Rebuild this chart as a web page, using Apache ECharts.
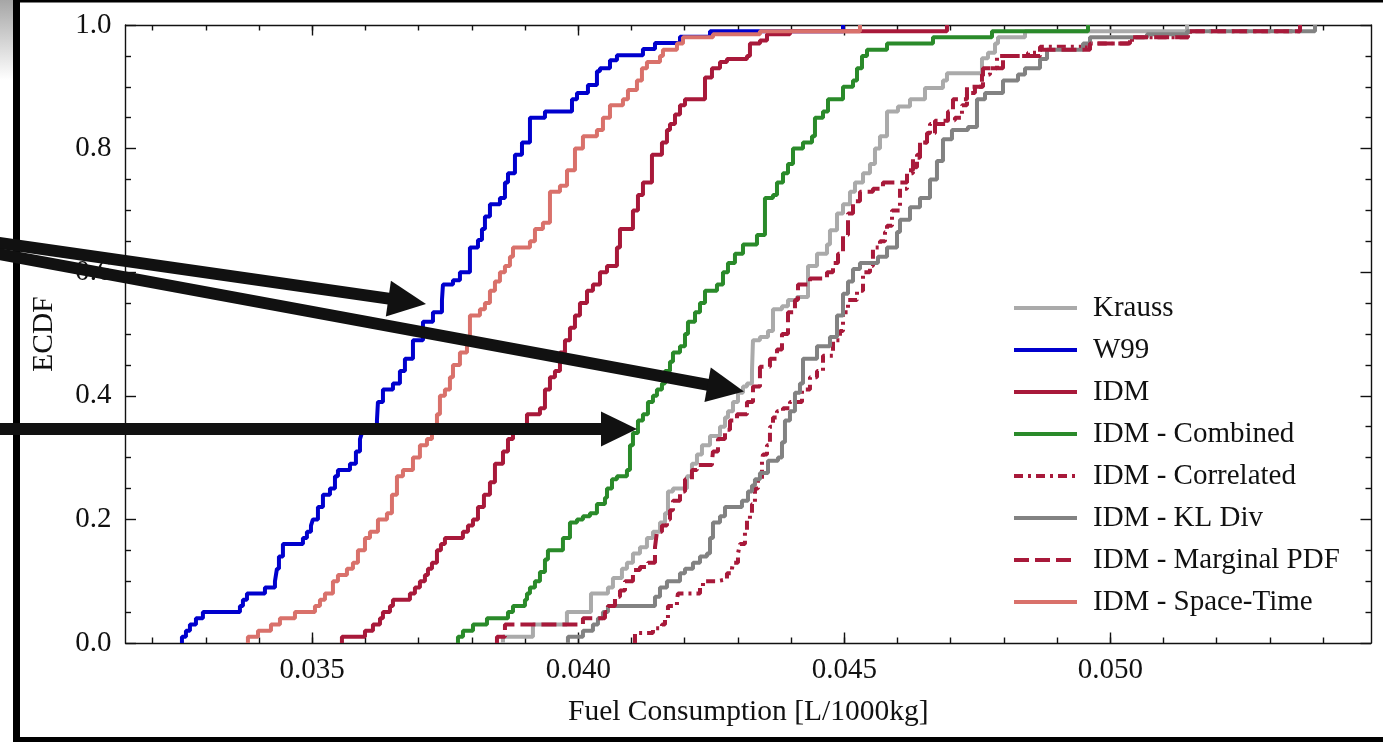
<!DOCTYPE html>
<html>
<head>
<meta charset="utf-8">
<script src="https://cdn.jsdelivr.net/npm/echarts@6/dist/echarts.min.js"></script>
<style>
html,body{margin:0;padding:0;background:#fff;}
#chart{width:1383px;height:742px;}
</style>
</head>
<body>
<div id="chart"></div>
<script>
// ---------------- data (ECDF corner points: fuel value, cumulative fraction after the step) ----------------
const seriesNames = ['Krauss', 'W99', 'IDM', 'IDM - Combined', 'IDM - Correlated', 'IDM - KL Div', 'IDM - Marginal PDF', 'IDM - Space-Time'];
const fuelTickLabels = [0.035, 0.040, 0.045, 0.050];
const fuelMinorTicks = [0.032,0.033,0.034,0.035,0.036,0.037,0.038,0.039,0.040,0.041,0.042,0.043,0.044,0.045,0.046,0.047,0.048,0.049,0.050,0.051,0.052,0.053,0.054];
const ecdfTickLabels = [0.0, 0.2, 0.4, 0.6, 0.8, 1.0];

const kraussX = [0.038585,0.039148,0.039787,0.040239,0.040558,0.040652,0.040821,0.040915,0.041028,0.041160,0.041291,0.041404,0.041536,0.041630,0.041686,0.041780,0.042043,0.042137,0.042231,0.042325,0.042476,0.042664,0.042758,0.042814,0.042908,0.043002,0.043096,0.043171,0.043265,0.043284,0.043415,0.043566,0.043660,0.043829,0.043942,0.044111,0.044318,0.044487,0.044675,0.044731,0.044863,0.044976,0.045107,0.045201,0.045352,0.045483,0.045577,0.045671,0.045803,0.046009,0.046235,0.046517,0.046855,0.046930,0.047588,0.047701,0.047833,0.047889,0.048397,0.051442];
const kraussY = [0.01,0.03,0.05,0.08,0.09,0.105,0.12,0.13,0.145,0.155,0.17,0.18,0.195,0.21,0.245,0.25,0.27,0.29,0.305,0.32,0.335,0.35,0.365,0.375,0.39,0.405,0.415,0.42,0.44,0.49,0.495,0.505,0.54,0.545,0.555,0.56,0.61,0.63,0.645,0.668,0.695,0.71,0.73,0.745,0.76,0.775,0.80,0.82,0.86,0.868,0.88,0.898,0.91,0.922,0.946,0.955,0.97,0.98,0.99,1.0];

const w99X = [0.032551,0.032626,0.032701,0.032814,0.032945,0.033641,0.033697,0.033773,0.034111,0.034299,0.034336,0.034374,0.034449,0.034825,0.034900,0.034976,0.035013,0.035107,0.035201,0.035333,0.035427,0.035483,0.035709,0.035821,0.035897,0.035934,0.036122,0.036216,0.036235,0.036329,0.036517,0.036648,0.036742,0.036893,0.037081,0.037269,0.037438,0.037457,0.037645,0.037776,0.037964,0.038115,0.038190,0.038246,0.038340,0.038528,0.038622,0.038679,0.038810,0.038942,0.039092,0.039374,0.039882,0.039976,0.040182,0.040351,0.040408,0.040596,0.040727,0.041216,0.041442,0.041912,0.042476,0.044976];
const w99Y = [0.01,0.02,0.03,0.04,0.05,0.06,0.07,0.08,0.09,0.10,0.12,0.14,0.16,0.17,0.18,0.19,0.20,0.22,0.24,0.25,0.27,0.28,0.29,0.31,0.33,0.34,0.35,0.36,0.39,0.41,0.42,0.44,0.46,0.49,0.52,0.535,0.555,0.58,0.587,0.60,0.64,0.652,0.67,0.69,0.71,0.72,0.745,0.76,0.79,0.81,0.85,0.86,0.88,0.89,0.903,0.925,0.93,0.943,0.951,0.961,0.971,0.981,0.99,1.0];

const idmX = [0.035558,0.035991,0.036141,0.036273,0.036329,0.036461,0.036517,0.036836,0.036930,0.037024,0.037118,0.037175,0.037250,0.037344,0.037419,0.037494,0.037832,0.037927,0.038021,0.038115,0.038227,0.038340,0.038434,0.038585,0.038679,0.038773,0.038848,0.039036,0.039280,0.039374,0.039468,0.039562,0.039656,0.039750,0.039844,0.039938,0.040032,0.040164,0.040276,0.040408,0.040540,0.040727,0.040784,0.041028,0.041122,0.041216,0.041385,0.041573,0.041667,0.041724,0.041818,0.041912,0.042006,0.042382,0.042513,0.042664,0.042795,0.043171,0.043227,0.043415,0.043547,0.043979,0.046930];
const idmY = [0.01,0.02,0.03,0.04,0.05,0.06,0.07,0.08,0.09,0.10,0.11,0.12,0.13,0.15,0.16,0.17,0.18,0.19,0.20,0.22,0.24,0.26,0.29,0.31,0.33,0.34,0.35,0.37,0.38,0.41,0.43,0.44,0.47,0.49,0.51,0.53,0.55,0.57,0.58,0.60,0.61,0.64,0.67,0.70,0.725,0.745,0.79,0.81,0.83,0.84,0.855,0.87,0.88,0.915,0.93,0.94,0.945,0.95,0.97,0.975,0.985,0.99,1.0];

const combinedX = [0.037739,0.037833,0.038021,0.038284,0.038679,0.038773,0.038998,0.039036,0.039092,0.039186,0.039280,0.039374,0.039430,0.039712,0.039844,0.039976,0.040088,0.040220,0.040351,0.040502,0.040540,0.040634,0.040727,0.040915,0.040972,0.041028,0.041122,0.041216,0.041310,0.041404,0.041479,0.041573,0.041630,0.041724,0.041780,0.041912,0.042006,0.042062,0.042194,0.042288,0.042382,0.042607,0.042720,0.042814,0.042945,0.043096,0.043359,0.043509,0.043660,0.043735,0.043848,0.043942,0.044036,0.044224,0.044393,0.044449,0.044600,0.044694,0.044976,0.045164,0.045239,0.045333,0.045427,0.045803,0.046667,0.047776,0.049581];
const combinedY = [0.01,0.02,0.03,0.04,0.05,0.06,0.07,0.08,0.09,0.10,0.115,0.135,0.15,0.17,0.195,0.20,0.205,0.21,0.225,0.235,0.25,0.265,0.27,0.28,0.32,0.34,0.36,0.37,0.39,0.40,0.41,0.42,0.44,0.455,0.47,0.48,0.50,0.52,0.535,0.55,0.57,0.58,0.60,0.615,0.63,0.645,0.66,0.72,0.725,0.745,0.76,0.775,0.80,0.81,0.82,0.85,0.86,0.88,0.90,0.91,0.93,0.95,0.96,0.97,0.98,0.99,1.0];

const correlatedX = [0.041066,0.041404,0.041573,0.041630,0.041686,0.041855,0.041874,0.042288,0.042344,0.042607,0.042795,0.042889,0.042908,0.043002,0.043039,0.043133,0.043171,0.043227,0.043265,0.043321,0.043378,0.043453,0.043472,0.043547,0.043603,0.043660,0.043735,0.043848,0.043979,0.044205,0.044355,0.044487,0.044600,0.044788,0.044919,0.044976,0.045070,0.045239,0.045352,0.045483,0.045539,0.045671,0.045765,0.045803,0.045897,0.046047,0.046179,0.046291,0.046367,0.046423,0.046555,0.046611,0.046930,0.047080,0.047212,0.047306,0.047456,0.047588,0.047738,0.047870,0.048453,0.048679,0.049618,0.050408,0.051498,0.053566];
const correlatedY = [0.016,0.024,0.03,0.04,0.06,0.07,0.08,0.09,0.10,0.103,0.113,0.12,0.13,0.145,0.16,0.18,0.20,0.21,0.225,0.25,0.265,0.295,0.305,0.32,0.35,0.365,0.375,0.38,0.39,0.41,0.43,0.44,0.465,0.49,0.505,0.535,0.555,0.57,0.60,0.61,0.64,0.65,0.665,0.675,0.70,0.735,0.76,0.77,0.79,0.81,0.825,0.84,0.846,0.85,0.87,0.89,0.90,0.92,0.93,0.95,0.955,0.965,0.97,0.98,0.99,1.0];

const klDivX = [0.039806,0.040088,0.040276,0.040370,0.040464,0.040558,0.041442,0.041536,0.041667,0.041912,0.042006,0.042156,0.042288,0.042419,0.042476,0.042532,0.042664,0.042758,0.043077,0.043190,0.043265,0.043321,0.043415,0.043566,0.043754,0.043829,0.043885,0.043979,0.044073,0.044167,0.044224,0.044487,0.044731,0.044863,0.044976,0.045070,0.045164,0.045295,0.045633,0.045803,0.045991,0.046047,0.046235,0.046423,0.046611,0.046742,0.046855,0.047024,0.047325,0.047494,0.047645,0.047983,0.048265,0.048397,0.048679,0.048810,0.049487,0.049618,0.050690,0.051442,0.053848];
const klDivY = [0.01,0.02,0.03,0.04,0.05,0.06,0.075,0.09,0.10,0.113,0.12,0.13,0.14,0.145,0.17,0.195,0.205,0.22,0.23,0.245,0.255,0.265,0.275,0.295,0.30,0.325,0.36,0.375,0.405,0.42,0.46,0.48,0.495,0.53,0.565,0.585,0.605,0.615,0.625,0.64,0.665,0.685,0.705,0.72,0.75,0.78,0.815,0.83,0.835,0.88,0.89,0.91,0.92,0.93,0.945,0.96,0.97,0.98,0.985,0.99,1.0];

const marginalX = [0.038472,0.038622,0.040088,0.040502,0.040558,0.040690,0.040784,0.040878,0.041028,0.041160,0.041310,0.041442,0.041479,0.041573,0.041667,0.041724,0.041780,0.041912,0.042006,0.042137,0.042231,0.042513,0.042532,0.042626,0.042758,0.042852,0.042983,0.043171,0.043284,0.043415,0.043603,0.043735,0.043829,0.043942,0.044073,0.044130,0.044355,0.044675,0.044788,0.044882,0.044976,0.045070,0.045164,0.045295,0.045539,0.045727,0.046179,0.046291,0.046423,0.046555,0.046705,0.046949,0.047043,0.047306,0.047607,0.047983,0.048679,0.049618,0.050370,0.051461,0.053566];
const marginalY = [0.01,0.03,0.04,0.05,0.06,0.075,0.085,0.10,0.118,0.123,0.13,0.155,0.18,0.19,0.20,0.215,0.23,0.245,0.265,0.28,0.288,0.293,0.31,0.33,0.345,0.36,0.37,0.39,0.415,0.447,0.46,0.475,0.50,0.535,0.555,0.58,0.59,0.60,0.615,0.63,0.66,0.695,0.715,0.73,0.735,0.745,0.765,0.785,0.81,0.825,0.845,0.86,0.88,0.90,0.93,0.95,0.96,0.97,0.98,0.99,1.0];

const spaceTimeX = [0.033791,0.033980,0.034224,0.034393,0.034675,0.035051,0.035145,0.035239,0.035389,0.035483,0.035652,0.035765,0.035859,0.035991,0.036085,0.036235,0.036404,0.036498,0.036592,0.036705,0.036893,0.037024,0.037156,0.037250,0.037344,0.037400,0.037494,0.037588,0.037645,0.037776,0.037908,0.037964,0.038152,0.038246,0.038340,0.038434,0.038528,0.038622,0.038716,0.038773,0.039092,0.039186,0.039336,0.039468,0.039656,0.039788,0.039938,0.040088,0.040351,0.040464,0.040596,0.040840,0.040934,0.041103,0.041197,0.041291,0.041536,0.041592,0.041855,0.041968,0.042532,0.043415,0.045295];
const spaceTimeY = [0.01,0.02,0.03,0.04,0.05,0.06,0.07,0.08,0.10,0.11,0.12,0.13,0.15,0.17,0.18,0.20,0.21,0.24,0.27,0.28,0.30,0.32,0.33,0.35,0.37,0.40,0.41,0.43,0.45,0.47,0.49,0.53,0.54,0.55,0.57,0.585,0.60,0.61,0.625,0.64,0.65,0.67,0.68,0.73,0.74,0.765,0.80,0.82,0.83,0.85,0.87,0.88,0.895,0.91,0.93,0.94,0.95,0.96,0.97,0.98,0.985,0.99,1.0];

// ---------------- styling ----------------
const FONT = 'Liberation Serif';
const INK = '#111111';
const CRIMSON = '#a8193a';
const LINE_W = 4;
const seriesStyle = [
  {x: kraussX, y: kraussY, color: '#aaaaaa', type: 'solid'},
  {x: w99X, y: w99Y, color: '#0000cd', type: 'solid'},
  {x: idmX, y: idmY, color: CRIMSON, type: 'solid'},
  {x: combinedX, y: combinedY, color: '#2a8a2a', type: 'solid'},
  {x: correlatedX, y: correlatedY, color: CRIMSON, type: [9, 5, 3, 5]},
  {x: klDivX, y: klDivY, color: '#828282', type: 'solid'},
  {x: marginalX, y: marginalY, color: CRIMSON, type: [15, 6]},
  {x: spaceTimeX, y: spaceTimeY, color: '#d9716b', type: 'solid'}
];

function ecdfPoints(xs, ys) {
  const n = Math.min(xs.length, ys.length);
  const pts = [[xs[0], 0]];
  for (let i = 0; i < n; i++) pts.push([xs[i], ys[i]]);
  return pts;
}

const series = seriesNames.map((name, i) => ({
  name: name,
  type: 'line',
  step: 'end',
  xAxisIndex: 0,
  yAxisIndex: 0,
  symbol: 'none',
  showSymbol: false,
  animation: false,
  data: ecdfPoints(seriesStyle[i].x, seriesStyle[i].y),
  lineStyle: {color: seriesStyle[i].color, width: LINE_W, type: seriesStyle[i].type},
  itemStyle: {color: seriesStyle[i].color},
  z: 2 + i
}));

const XMIN = 0.03149, XMAX = 0.05490;
const axisLineStyle = {color: INK, width: 1.4};
function xAxisDef(position, ticks, len, showLine, showLabel) {
  return {
    type: 'value', position: position, min: XMIN, max: XMAX, gridIndex: 0,
    axisLine: {show: showLine, onZero: false, lineStyle: axisLineStyle},
    axisTick: {show: true, inside: true, length: len, customValues: ticks, lineStyle: axisLineStyle},
    axisLabel: {show: showLabel, customValues: ticks, margin: 13, fontFamily: FONT, fontSize: 29, color: INK,
      formatter: v => Number(v).toFixed(3)},
    splitLine: {show: false},
    minorTick: {show: false}
  };
}

const xAxes = [
  Object.assign(xAxisDef('bottom', fuelTickLabels, 10.5, true, true), {
    name: 'Fuel Consumption [L/1000kg]', nameLocation: 'middle', nameGap: 54,
    nameTextStyle: {fontFamily: FONT, fontSize: 29.5, color: INK}
  }),
  xAxisDef('bottom', fuelMinorTicks, 5.5, false, false),
  xAxisDef('top', fuelTickLabels, 10.5, true, false),
  xAxisDef('top', fuelMinorTicks, 5.5, false, false)
];

function yAxisDef(position, showLabel) {
  return {
    type: 'value', position: position, min: 0, max: 1, interval: 0.2,
    axisLine: {show: true, onZero: false, lineStyle: axisLineStyle},
    axisTick: {show: true, inside: true, length: 10.5, lineStyle: axisLineStyle},
    minorTick: {show: true, splitNumber: 4, length: 5.5, lineStyle: axisLineStyle},
    axisLabel: {show: showLabel, margin: 14, fontFamily: FONT, fontSize: 29, color: INK,
      formatter: v => Number(v).toFixed(1)},
    splitLine: {show: false},
    minorSplitLine: {show: false}
  };
}
const yAxes = [
  Object.assign(yAxisDef('left', true), {
    name: 'ECDF', nameLocation: 'middle', nameGap: 66, nameRotate: 90,
    nameTextStyle: {fontFamily: FONT, fontSize: 29.5, color: INK}
  }),
  yAxisDef('right', false)
];

// ---------------- annotation overlays (frame + arrows) ----------------
function arrow(x0, y0, x1, y1, headLen, headHalf, width) {
  const dx = x1 - x0, dy = y1 - y0, L = Math.hypot(dx, dy);
  const ux = dx / L, uy = dy / L, nx = -uy, ny = ux;
  const bx = x1 - ux * headLen, by = y1 - uy * headLen;
  return [
    {type: 'line', z: 100, silent: true,
     shape: {x1: x0, y1: y0, x2: bx + ux * 2, y2: by + uy * 2},
     style: {stroke: INK, lineWidth: width}},
    {type: 'polygon', z: 100, silent: true,
     shape: {points: [[x1, y1], [bx + nx * headHalf, by + ny * headHalf], [bx - nx * headHalf, by - ny * headHalf]]},
     style: {fill: INK}}
  ];
}

const graphics = [
  {type: 'rect', z: 90, silent: true, shape: {x: 0, y: 0, width: 13, height: 80},
   style: {fill: new echarts.graphic.LinearGradient(0, 0, 0, 1, [{offset: 0, color: '#a6a6a6'}, {offset: 1, color: '#ffffff'}])}},
  {type: 'rect', z: 95, silent: true, shape: {x: 13, y: 0, width: 7, height: 742}, style: {fill: '#000'}},
  {type: 'rect', z: 95, silent: true, shape: {x: 13, y: 0, width: 1370, height: 2.5}, style: {fill: '#000'}},
  {type: 'rect', z: 95, silent: true, shape: {x: 13, y: 737, width: 1370, height: 5}, style: {fill: '#000'}}
].concat(
  arrow(-10, 241.6, 426, 304, 38, 18, 12),
  arrow(-10, 252.4, 744, 391.5, 37, 17.5, 12),
  arrow(-10, 429, 637, 429, 36, 17.5, 12)
);

const chart = echarts.init(document.getElementById('chart'), null, {renderer: 'canvas'});
chart.setOption({
  backgroundColor: '#ffffff',
  animation: false,
  textStyle: {fontFamily: FONT},
  grid: {left: 125.5, right: 12, top: 25, bottom: 99, containLabel: false},
  xAxis: xAxes,
  yAxis: yAxes,
  legend: {
    orient: 'vertical', left: 1007, top: 288,
    itemWidth: 63, itemHeight: 14, itemGap: 12,
    selectedMode: false,
    data: seriesNames,
    itemStyle: {opacity: 0},
    lineStyle: {width: LINE_W},
    textStyle: {fontFamily: FONT, fontSize: 29, color: INK, lineHeight: 30, padding: [0, 0, 0, 11]}
  },
  series: series,
  graphic: graphics
});
</script>
</body>
</html>
